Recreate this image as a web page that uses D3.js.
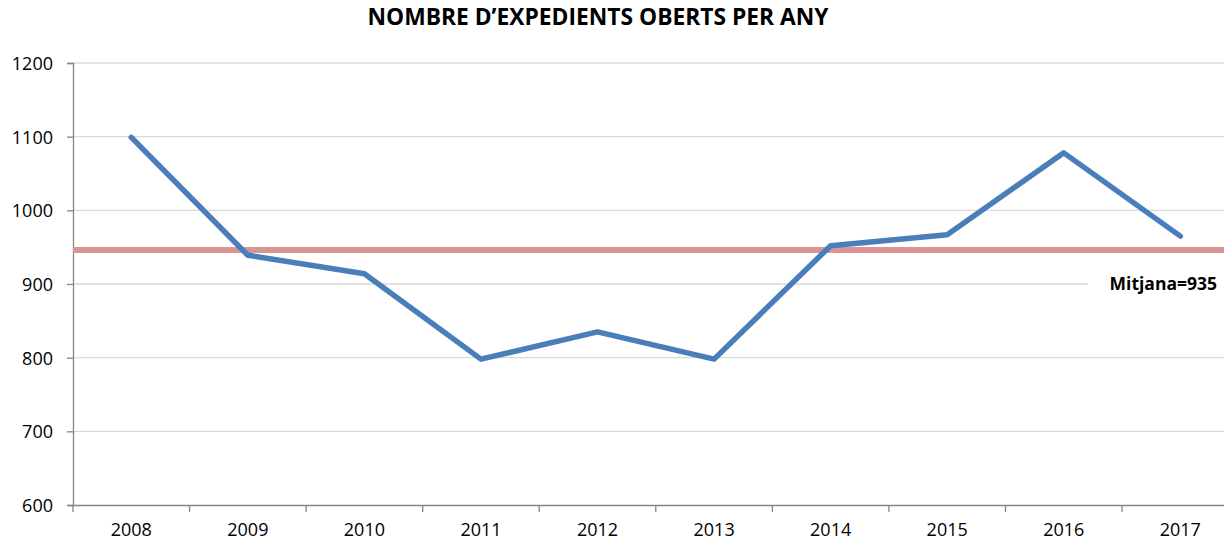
<!DOCTYPE html>
<html>
<head>
<meta charset="utf-8">
<script src="https://cdn.jsdelivr.net/npm/d3@7"></script>
<style>
  body { margin: 0; background: #fff; }
  svg { display: block; font-family: "Open Sans", sans-serif; }
</style>
</head>
<body>
<script>
// dades llegides del grafic
var anys = ["2008","2009","2010","2011","2012","2013","2014","2015","2016","2017"];
var expedients = [1099, 939, 914, 798, 835, 798, 952, 967, 1078, 965];
var yTicks = [600, 700, 800, 900, 1000, 1100, 1200];
var mitjana = 946;
var mitjanaText = "Mitjana=935";
var titol = "NOMBRE D\u2019EXPEDIENTS OBERTS PER ANY";

(function(){
  var W = 1224, H = 542;
  var mLeft = 73, mTop = 63, mBottom = 505, bandW = 116.56;

  var svg = d3.select("body").append("svg").attr("width", W).attr("height", H);

  var x = d3.scaleBand().domain(anys).range([mLeft, mLeft + bandW * anys.length]);
  var y = d3.scaleLinear().domain([600, 1200]).range([mBottom, mTop]);

  // linies de graella
  svg.append("g").selectAll("line").data(yTicks.slice(1)).enter().append("line")
    .attr("x1", mLeft).attr("x2", W)
    .attr("y1", function(d){ return y(d); }).attr("y2", function(d){ return y(d); })
    .attr("stroke", "#d9d9d9").attr("stroke-width", 1.3);

  // eix Y
  var yAxis = svg.append("g").attr("transform", "translate(" + mLeft + ",0)")
    .call(d3.axisLeft(y).tickValues(yTicks).tickFormat(d3.format("d")).tickSize(6).tickPadding(14));
  yAxis.attr("font-family", null);
  yAxis.select(".domain").attr("stroke", "#868686").attr("stroke-width", 1.3);
  yAxis.selectAll(".tick line").attr("stroke", "#868686").attr("stroke-width", 1.3);
  yAxis.selectAll("text").attr("font-size", 18).attr("fill", "#000").attr("dy", "0.36em");

  // eix X
  var xAxis = svg.append("g").attr("transform", "translate(0," + mBottom + ")")
    .call(d3.axisBottom(x).tickSize(0).tickPadding(18));
  xAxis.attr("font-family", null);
  xAxis.select(".domain").attr("stroke", "#868686").attr("stroke-width", 1.3);
  xAxis.selectAll("text").attr("font-size", 18).attr("fill", "#000");
  // marques entre categories
  svg.append("g").selectAll("line").data(anys).enter().append("line")
    .attr("x1", function(d){ return x(d); }).attr("x2", function(d){ return x(d); })
    .attr("y1", mBottom).attr("y2", mBottom + 7)
    .attr("stroke", "#868686").attr("stroke-width", 1.3);

  // linia de la mitjana
  svg.append("line")
    .attr("x1", mLeft).attr("x2", W)
    .attr("y1", y(mitjana)).attr("y2", y(mitjana))
    .attr("stroke", "#d99594").attr("stroke-width", 6);

  // etiqueta mitjana
  svg.append("rect").attr("x", 1088).attr("y", y(900) - 12).attr("width", W - 1088).attr("height", 24)
    .attr("fill", "#fff");
  svg.append("text").attr("x", 1217).attr("y", y(900)).attr("dy", "0.36em")
    .attr("text-anchor", "end").attr("font-size", 17.5).attr("font-weight", "bold")
    .text(mitjanaText);

  // serie
  var line = d3.line()
    .x(function(d, i){ return x(anys[i]) + x.bandwidth() / 2; })
    .y(function(d){ return y(d); });
  svg.append("path").datum(expedients)
    .attr("d", line)
    .attr("fill", "none").attr("stroke", "#4a7ebb").attr("stroke-width", 5.5)
    .attr("stroke-linejoin", "round").attr("stroke-linecap", "round");

  // titol
  svg.append("text").attr("x", 598).attr("y", 25).attr("text-anchor", "middle")
    .attr("font-size", 22.8).attr("font-weight", "bold").text(titol);
})();
</script>
</body>
</html>
